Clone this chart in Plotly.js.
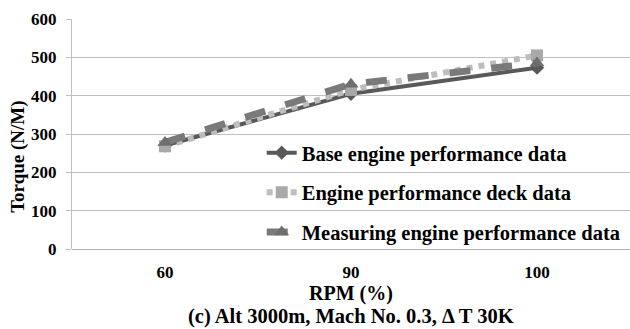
<!DOCTYPE html>
<html>
<head>
<meta charset="utf-8">
<script src="https://cdn.plot.ly/plotly-3.0.1.min.js"></script>
<style>html,body{margin:0;padding:0;background:#fff;}#chart{width:630px;height:329px;}</style>
</head>
<body>
<div id="chart"></div>
<script>
const rpmCategories = ["60", "90", "100"];
const baseEngine = [270, 405, 473];
const deckData = [268, 415, 505];
const measuringEngine = [278, 430, 485];
const seriesNames = ["Base engine performance data", "Engine performance deck data", "Measuring engine performance data"];
const yTicks = [0, 100, 200, 300, 400, 500, 600];

const serif = "Liberation Serif, Times New Roman, serif";

const traces = [
  {
    x: rpmCategories, y: baseEngine, name: "<b>" + seriesNames[0] + "</b>", type: "scatter", mode: "lines+markers",
    legendgroup: "a",
    line: {color: "#595959", width: 4},
    marker: {symbol: "diamond", size: 11, color: "#595959"}
  },
  {
    x: rpmCategories, y: deckData, name: "<b>" + seriesNames[1] + "</b>", type: "scatter", mode: "lines+markers",
    legendgroup: "b",
    line: {color: "#bdbdbd", width: 6, dash: "dot"},
    marker: {symbol: "square", size: 12, color: "#a9a9a9"}
  },
  {
    x: rpmCategories, y: measuringEngine, name: "<b>" + seriesNames[2] + "</b>", type: "scatter", mode: "lines+markers",
    legendgroup: "c",
    line: {color: "#7a7a7a", width: 7, dash: "dash"},
    marker: {symbol: "triangle-up", size: 13, color: "#6e6e6e"}
  }
];

const layout = {
  width: 630, height: 329,
  margin: {l: 72, r: 0, t: 19, b: 80, autoexpand: false},
  paper_bgcolor: "#ffffff", plot_bgcolor: "#ffffff",
  font: {family: serif, color: "#000000"},
  showlegend: true,
  legend: {
    x: 0.34, y: 0.505, xanchor: "left", yanchor: "top",
    bgcolor: "rgba(0,0,0,0)",
    font: {family: serif, size: 20.5, color: "#000"},
    traceorder: "grouped", tracegroupgap: 10,
    itemwidth: 30
  },
  xaxis: {
    type: "category", categoryorder: "array", categoryarray: rpmCategories,
    range: [-0.5, 2.5],
    tickvals: rpmCategories, ticktext: rpmCategories.map(c => "<b>" + c + "</b>"),
    showgrid: false, zeroline: false, showline: false, ticks: "",
    tickfont: {family: serif, size: 17, color: "#000"},
    ticklabelstandoff: 11,
    title: {text: "<b>RPM (%)</b>", font: {family: serif, size: 20, color: "#000"}, standoff: 3}
  },
  yaxis: {
    range: [0, 600], tickvals: yTicks, ticktext: yTicks.map(v => "<b>" + v + "</b>"),
    showgrid: true, gridcolor: "#c0c0c0", gridwidth: 1,
    zeroline: true, zerolinecolor: "#b0b0b0", zerolinewidth: 1,
    showline: true, linecolor: "#c0c0c0", linewidth: 1,
    ticks: "outside", ticklen: 5, tickcolor: "#c0c0c0",
    tickfont: {family: serif, size: 17, color: "#000"},
    ticklabelstandoff: 6
  },
  annotations: [
    {text: "<b>Torque (N/M)</b>", textangle: -90, xref: "paper", yref: "paper",
     x: -0.097, y: 0.40, xanchor: "center", yanchor: "middle", showarrow: false,
     font: {family: serif, size: 19, color: "#000"}},
    {text: "<b>(c) Alt 3000m, Mach No. 0.3, \u0394 T 30K</b>", xref: "paper", yref: "paper",
     x: 0.5, y: -0.292, xanchor: "center", yanchor: "middle", showarrow: false,
     font: {family: serif, size: 20.5, color: "#000"}}
  ]
};

Plotly.newPlot("chart", traces, layout, {displayModeBar: false, staticPlot: true});
</script>
</body>
</html>
